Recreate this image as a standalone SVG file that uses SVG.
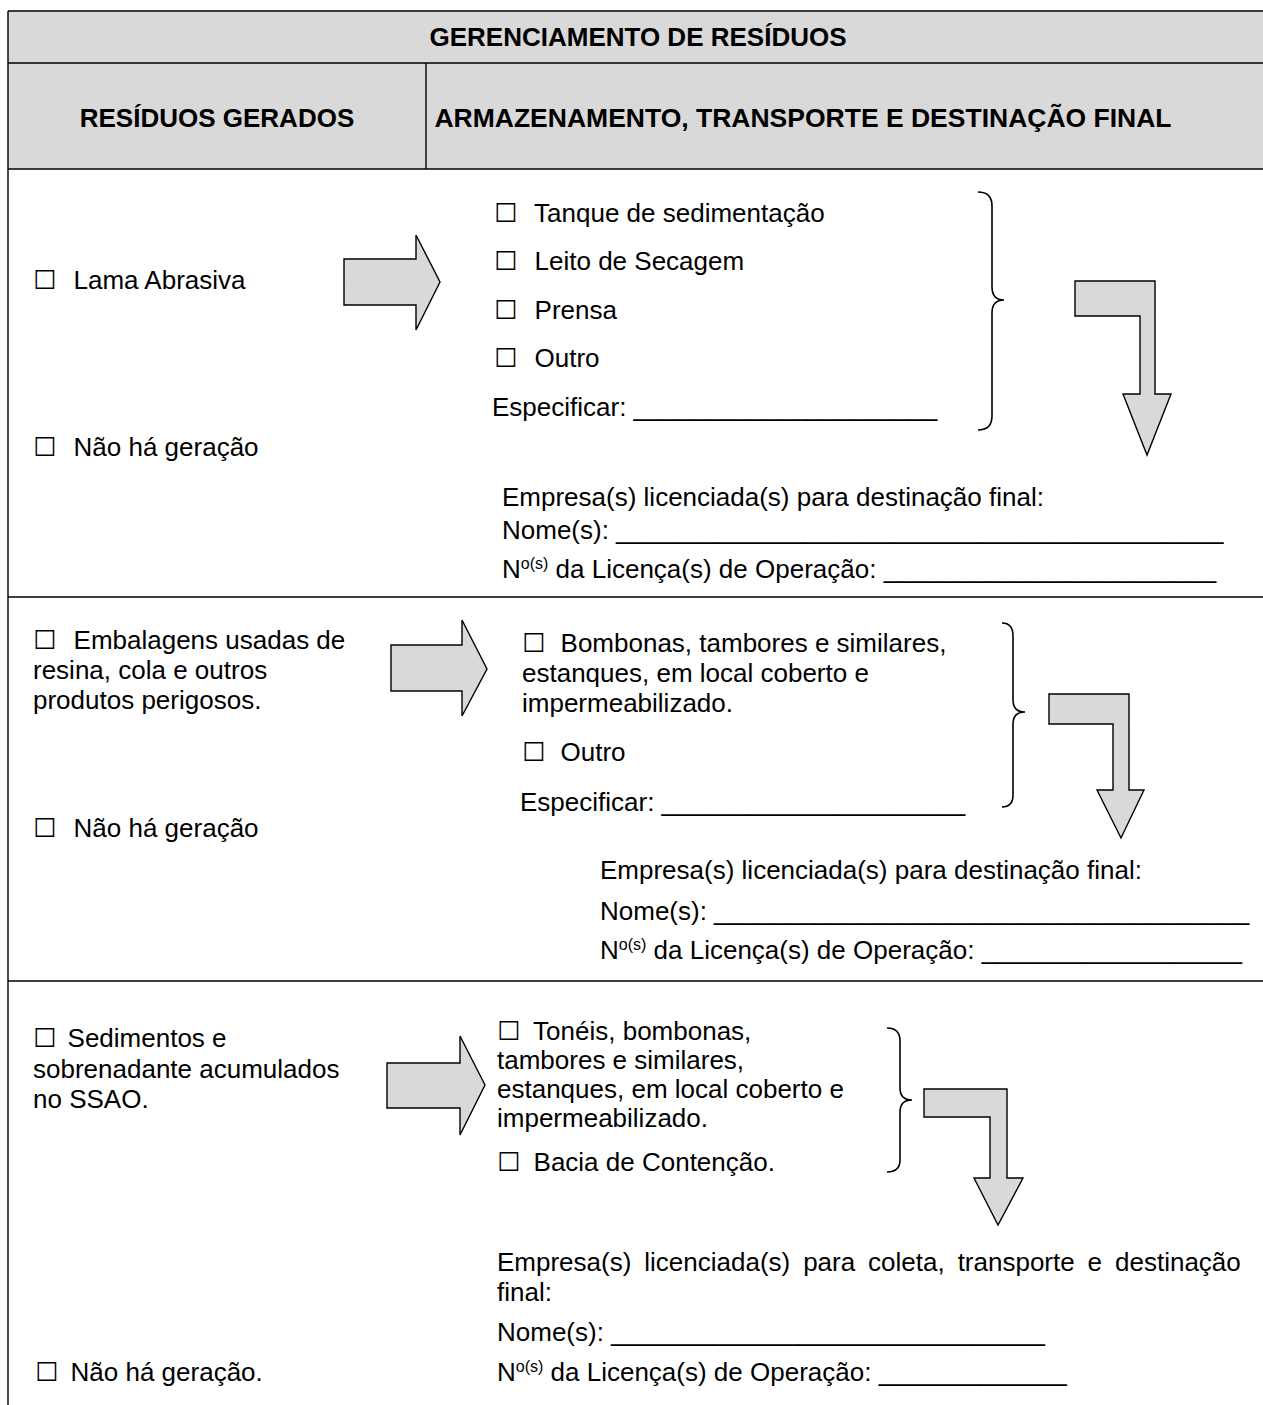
<svg xmlns="http://www.w3.org/2000/svg" width="1263" height="1405" viewBox="0 0 1263 1405">
<style>
text{font-family:"Liberation Sans",Arial,sans-serif;font-size:26px;fill:#000}
.h{font-weight:bold;text-anchor:middle}
.b{font-family:"DejaVu Sans",sans-serif;font-size:26px}
.sup{font-size:16px}
.ln{stroke:#000;stroke-width:1.4;fill:none}
.arr{fill:#d9d9d9;stroke:#000;stroke-width:1.4;stroke-linejoin:miter}
.br{fill:none;stroke:#000;stroke-width:1.6}
</style>
<rect x="0" y="0" width="1263" height="1405" fill="#fff"/>
<g id="table">
<rect x="8" y="11" width="1260" height="158" fill="#d9d9d9"/>
<path class="ln" d="M8,11 H1263 M8,63 H1263 M8,169 H1263 M8,597 H1263 M8,981 H1263 M8,11 V1405 M426,63 V169"/>
</g>
<g id="header">
<text class="h" x="638" y="46">GERENCIAMENTO DE RESÍDUOS</text>
<text class="h" x="217" y="127">RESÍDUOS GERADOS</text>
<text class="h" x="803" y="127" style="font-size:26.5px">ARMAZENAMENTO, TRANSPORTE E DESTINAÇÃO FINAL</text>
</g>
<g id="residuo1">
<text x="33" y="289"><tspan class="b">☐</tspan><tspan dx="10"> Lama Abrasiva</tspan></text>
<text x="33" y="456"><tspan class="b">☐</tspan><tspan dx="10"> Não há geração</tspan></text>
</g>
<g id="armazenamento1">
<text x="494" y="222"><tspan class="b">☐</tspan><tspan dx="10"> Tanque de sedimentação</tspan></text>
<text x="494" y="270"><tspan class="b">☐</tspan><tspan dx="10"> Leito de Secagem</tspan></text>
<text x="494" y="319"><tspan class="b">☐</tspan><tspan dx="10">  Prensa</tspan></text>
<text x="494" y="367"><tspan class="b">☐</tspan><tspan dx="10"> Outro</tspan></text>
<text x="492" y="416">Especificar: _____________________</text>
</g>
<g id="destinacao1">
<text x="502" y="506">Empresa(s) licenciada(s) para destinação final:</text>
<text x="502" y="539">Nome(s): __________________________________________</text>
<text x="502" y="578">N<tspan class="sup" dy="-9">o(s)</tspan><tspan dy="9"> da Licença(s) de Operação: _______________________</tspan></text>
</g>
<g id="residuo2">
<text x="33" y="649"><tspan class="b">☐</tspan><tspan dx="10"> Embalagens usadas de</tspan></text>
<text x="33" y="679">resina, cola e outros</text>
<text x="33" y="709">produtos perigosos.</text>
<text x="33" y="837"><tspan class="b">☐</tspan><tspan dx="10"> Não há geração</tspan></text>
</g>
<g id="armazenamento2">
<text x="522" y="652"><tspan class="b">☐</tspan><tspan dx="8"> Bombonas, tambores e similares,</tspan></text>
<text x="522" y="682">estanques, em local coberto e</text>
<text x="522" y="712">impermeabilizado.</text>
<text x="522" y="761"><tspan class="b">☐</tspan><tspan dx="8"> Outro</tspan></text>
<text x="520" y="811">Especificar: _____________________</text>
</g>
<g id="destinacao2">
<text x="600" y="879">Empresa(s) licenciada(s) para destinação final:</text>
<text x="600" y="920">Nome(s): _____________________________________</text>
<text x="600" y="959">N<tspan class="sup" dy="-9">o(s)</tspan><tspan dy="9"> da Licença(s) de Operação: __________________</tspan></text>
</g>
<g id="residuo3">
<text x="33" y="1047"><tspan class="b">☐</tspan><tspan dx="4"> Sedimentos e</tspan></text>
<text x="33" y="1078">sobrenadante acumulados</text>
<text x="33" y="1108">no SSAO.</text>
<text x="35" y="1381"><tspan class="b">☐</tspan><tspan dx="5"> Não há geração.</tspan></text>
</g>
<g id="armazenamento3">
<text x="497" y="1040"><tspan class="b">☐</tspan><tspan dx="6"> Tonéis, bombonas,</tspan></text>
<text x="497" y="1069">tambores e similares,</text>
<text x="497" y="1098">estanques, em local coberto e</text>
<text x="497" y="1127">impermeabilizado.</text>
<text x="497" y="1171"><tspan class="b">☐</tspan><tspan dx="6"> Bacia de Contenção.</tspan></text>
</g>
<g id="destinacao3">
<text x="497" y="1271" word-spacing="5.7">Empresa(s) licenciada(s) para coleta, transporte e destinação</text>
<text x="497" y="1301">final:</text>
<text x="497" y="1341">Nome(s): ______________________________</text>
<text x="497" y="1381">N<tspan class="sup" dy="-9">o(s)</tspan><tspan dy="9"> da Licença(s) de Operação: _____________</tspan></text>
</g>
<g id="connectors">
<polygon class="arr" points="344,259 416,259 416,235 440,282 416,330 416,305 344,305"/>
<polygon class="arr" points="391,645 462,645 462,620 487,669 462,716 462,691 391,691"/>
<polygon class="arr" points="387,1063 460,1063 460,1036 485,1085 460,1135 460,1108 387,1108"/>
<path class="br" d="M978,192 Q992,192 992,206 L992,287 Q992,300 1004,300 Q992,300 992,313 L992,416 Q992,430 978,430"/>
<path class="br" d="M1002,623 Q1013,623 1013,636 L1013,700 Q1013,712 1025,712 Q1013,712 1013,724 L1013,795 Q1013,807 1002,807"/>
<path class="br" d="M887,1028 Q900,1028 900,1041 L900,1088 Q900,1100 912,1100 Q900,1100 900,1112 L900,1160 Q900,1172 887,1172"/>
<polygon class="arr" points="1075,281 1155,281 1155,394 1171,394 1147,455 1123,394 1140,394 1140,316 1075,316"/>
<polygon class="arr" points="1049,694 1129,694 1129,790 1144,790 1121,838 1097,790 1113,790 1113,724 1049,724"/>
<polygon class="arr" points="924,1089 1007,1089 1007,1178 1023,1178 998,1225 974,1178 990,1178 990,1117 924,1117"/>
</g>
</svg>
